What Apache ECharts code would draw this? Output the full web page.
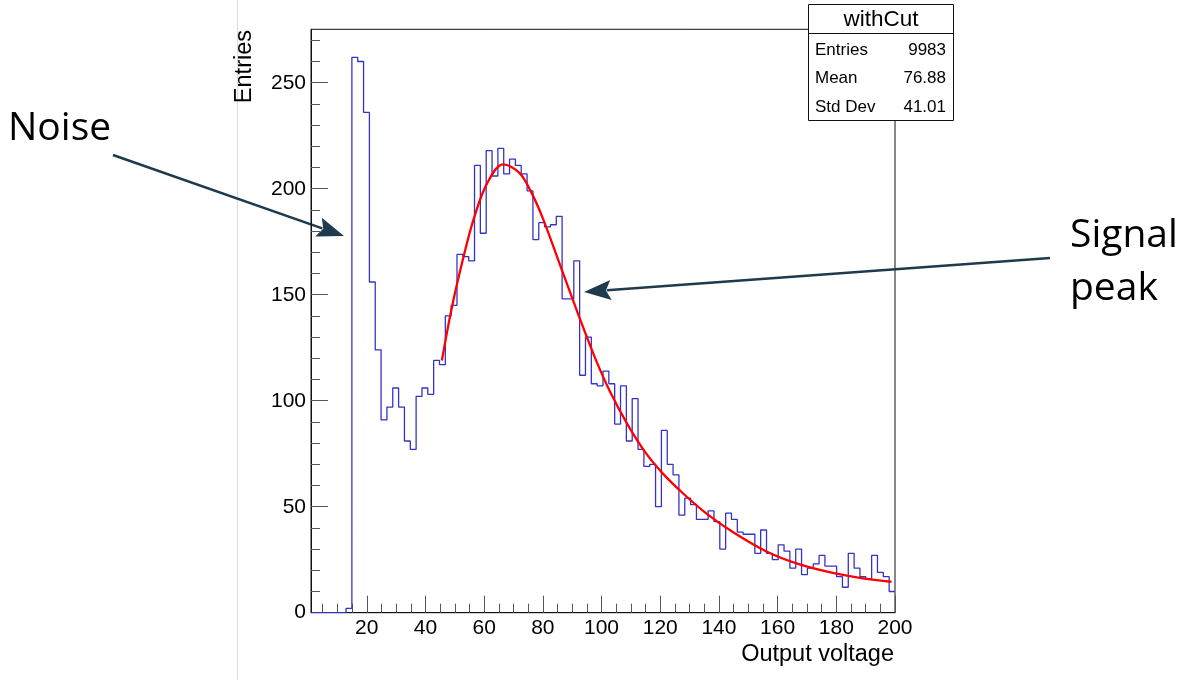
<!DOCTYPE html>
<html><head><meta charset="utf-8">
<script src="https://cdn.jsdelivr.net/npm/echarts@6/dist/echarts.min.js"></script>
<style>html,body{margin:0;padding:0;background:#fff;}#c{width:1184px;height:680px;}</style>
</head><body><div id="c"></div>
<script>
// ---- data ----
const xRange = [1, 200];
const binCount = 100;
const counts = [
  0, 0, 0, 0, 0, 0, 2, 262, 260, 236,
  156, 124, 91, 97, 106, 97, 81, 77, 102, 106,
  103, 119, 117, 140, 145, 169, 168, 166, 211, 179,
  218, 206, 219, 207, 214, 211, 207, 199, 176, 184,
  182, 183, 187, 148, 148, 166, 112, 130, 108, 107,
  114, 108, 89, 107, 81, 101, 77, 69, 70, 50,
  86, 70, 65, 46, 54, 51, 44, 44, 48, 43,
  30, 47, 44, 38, 37, 37, 28, 39, 28, 25,
  32, 29, 21, 30, 18, 21, 23, 27, 22, 22,
  17, 12, 28, 21, 17, 16, 27, 19, 17, 10
];
const fitCurve = [
  [45.6,119],[49,144],[53,168],[56.5,186],[61,202.5],[66.5,211.5],[72,207.5],
  [76,198.5],[80,186],[86,163.5],[92,141],[98,119.5],[103,104],[109,88.5],
  [115,75.5],[121,65.5],[128,56],[136,46.5],[145,37.8],[156,29],[167,23],
  [178,19],[189,16.2],[198.8,14.6]
];
const yMax = 275.2;
const xMajorTicks = [20, 40, 60, 80, 100, 120, 140, 160, 180, 200];
const xMinorTicks = [5, 10, 15, 25, 30, 35, 45, 50, 55, 65, 70, 75, 85, 90, 95, 105, 110, 115,
  125, 130, 135, 145, 150, 155, 165, 170, 175, 185, 190, 195];
const yMajorTicks = [0, 50, 100, 150, 200, 250];
const yMinorTicks = [10, 20, 30, 40, 60, 70, 80, 90, 110, 120, 130, 140, 160, 170, 180, 190,
  210, 220, 230, 240, 260, 270];
const xTitle = 'Output voltage';
const yTitle = 'Entries';
const statsTitle = 'withCut';
const statsRows = [['Entries', '9983'], ['Mean', '76.88'], ['Std Dev', '41.01']];
const noteNoise = 'Noise';
const noteSignal = ['Signal', 'peak'];

// ---- build ----
const binWidth = (xRange[1] - xRange[0]) / binCount;
const histData = counts.map((c, i) => [xRange[0] + i * binWidth, c]);
histData.push([xRange[1], counts[counts.length - 1]]);

const FONT = 'Liberation Sans';
const GRID = { left: 311, top: 29.3, width: 584, height: 583.4 };

function arrow(x1, y1, x2, y2, color) {
  const L = 27, W = 10;
  const dx = x2 - x1, dy = y2 - y1, len = Math.hypot(dx, dy);
  const ux = dx / len, uy = dy / len;
  const bx = x2 - ux * L, by = y2 - uy * L;
  const px = -uy, py = ux;
  return [
    { type: 'line', shape: { x1, y1, x2: bx + ux * 4, y2: by + uy * 4 }, style: { stroke: color, lineWidth: 2.6 } },
    { type: 'polygon', shape: { points: [[x2, y2], [bx + px * W, by + py * W], [bx + ux * 5, by + uy * 5], [bx - px * W, by - py * W]] }, style: { fill: color } }
  ];
}
const ARROW = '#1f3a4d';

const xAxisBase = { type: 'value', min: xRange[0], max: xRange[1], position: 'bottom', gridIndex: 0, splitLine: { show: false } };
const yAxisBase = { type: 'value', min: 0, max: yMax, position: 'left', gridIndex: 0, splitLine: { show: false } };

const chart = echarts.init(document.getElementById('c'), null, { renderer: 'canvas' });
chart.setOption({
  animation: false,
  backgroundColor: '#fff',
  grid: Object.assign({ show: true, borderColor: '#111', borderWidth: 1, backgroundColor: 'transparent' }, GRID),
  xAxis: [
    Object.assign({}, xAxisBase, {
      axisLine: { show: true, lineStyle: { color: '#111', width: 1 } },
      axisTick: { show: true, inside: true, length: 17, customValues: xMajorTicks, lineStyle: { color: '#555', width: 1 } },
      axisLabel: { show: true, customValues: xMajorTicks, fontFamily: FONT, fontSize: 21, color: '#000', margin: 5 }
    }),
    Object.assign({}, xAxisBase, {
      axisLine: { show: false },
      axisTick: { show: true, inside: true, length: 9, customValues: xMinorTicks, lineStyle: { color: '#555', width: 1 } },
      axisLabel: { show: false }
    })
  ],
  yAxis: [
    Object.assign({}, yAxisBase, {
      axisLine: { show: true, lineStyle: { color: '#111', width: 1 } },
      axisTick: { show: true, inside: true, length: 17, customValues: yMajorTicks, lineStyle: { color: '#555', width: 1 } },
      axisLabel: { show: true, customValues: yMajorTicks, fontFamily: FONT, fontSize: 21, color: '#000', margin: 5 }
    }),
    Object.assign({}, yAxisBase, {
      axisLine: { show: false },
      axisTick: { show: true, inside: true, length: 9, customValues: yMinorTicks, lineStyle: { color: '#555', width: 1 } },
      axisLabel: { show: false }
    })
  ],
  series: [
    {
      type: 'line', name: 'withCut', xAxisIndex: 0, yAxisIndex: 0,
      data: histData, step: 'end', symbol: 'none',
      lineStyle: { color: '#3434c4', width: 1.3 }, z: 3
    },
    {
      type: 'line', name: 'fit', xAxisIndex: 0, yAxisIndex: 0,
      data: fitCurve, smooth: 0.35, symbol: 'none',
      lineStyle: { color: '#ff0000', width: 2.3 }, z: 4
    }
  ],
  graphic: [
    { type: 'line', shape: { x1: 237.5, y1: 0, x2: 237.5, y2: 680 }, style: { stroke: '#dcdcdc', lineWidth: 1 } },
    { type: 'text', x: 245, y: 30, rotation: Math.PI / 2,
      style: { text: yTitle, font: '23.5px "Liberation Sans"', fill: '#000', align: 'right', verticalAlign: 'middle' } },
    { type: 'text', x: 894, y: 655,
      style: { text: xTitle, font: '23.5px "Liberation Sans"', fill: '#000', align: 'right', verticalAlign: 'middle' } },
    { type: 'group', z: 100, children: [
      { type: 'rect', shape: { x: 808.5, y: 4.5, width: 145, height: 116 }, style: { fill: '#fff', stroke: '#111', lineWidth: 1 } },
      { type: 'line', shape: { x1: 808.5, y1: 33.5, x2: 953.5, y2: 33.5 }, style: { stroke: '#111', lineWidth: 1 } },
      { type: 'text', x: 881, y: 19.5, style: { text: statsTitle, font: '22.5px "Liberation Sans"', fill: '#000', align: 'center', verticalAlign: 'middle' } }
    ].concat(statsRows.flatMap((r, i) => [
      { type: 'text', x: 815, y: 50 + i * 28.8, style: { text: r[0], font: '17px "Liberation Sans"', fill: '#000', align: 'left', verticalAlign: 'middle' } },
      { type: 'text', x: 946, y: 50 + i * 28.8, style: { text: r[1], font: '17px "Liberation Sans"', fill: '#000', align: 'right', verticalAlign: 'middle' } }
    ])) },
    { type: 'text', x: 8, y: 129, style: { text: noteNoise, font: '39px "Open Sans"', fill: '#000', align: 'left', verticalAlign: 'middle' } },
    { type: 'text', x: 1070, y: 236, style: { text: noteSignal[0], font: '39px "Open Sans"', fill: '#000', align: 'left', verticalAlign: 'middle' } },
    { type: 'text', x: 1070, y: 289, style: { text: noteSignal[1], font: '39px "Open Sans"', fill: '#000', align: 'left', verticalAlign: 'middle' } }
  ].concat(arrow(113, 155, 344, 236, ARROW)).concat(arrow(1050, 258, 584, 292, ARROW))
});
</script></body></html>
